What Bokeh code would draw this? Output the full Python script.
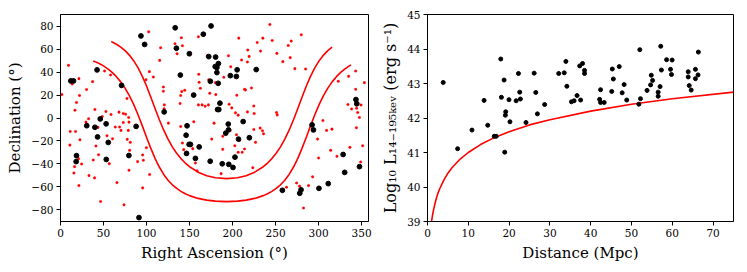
from bokeh.plotting import figure
from bokeh.layouts import row
from bokeh.models import Range1d, FixedTicker, CustomJSTickFormatter
from bokeh.embed import file_html
from bokeh.resources import INLINE

# ---------------- Left panel data ----------------
ra_black = [12.0, 15.1, 18.6, 18.2, 30.5, 40.0, 42.5, 43.1, 46.2, 53.0, 53.2, 55.5, 71.0, 79.5, 87.9,
            91.2, 93.5, 97.8, 120.5, 133.3, 134.7, 139.3, 146.0, 147.1, 146.5, 149.5, 151.0, 149.8,
            154.8, 156.8, 161.2, 172.3, 174.0, 174.2, 175.0, 166.0, 180.3, 179.8, 181.8, 181.8, 183.5,
            183.3, 182.6, 184.0, 185.3, 188.0, 192.1, 195.0, 195.3, 195.6, 197.4, 200.5, 202.8, 204.4,
            205.3, 206.9, 212.3, 219.5, 227.5, 257.9, 278.1, 279.6, 300.4, 311.2, 292.4, 294.0, 328.5,
            330.3, 347.5, 343.4, 344.4]
dec_black = [32.3, 32.3, -32.8, -38.0, -6.7, -8.1, 41.9, -16.5, -0.8, -5.1, -36.1, -21.3, 28.4, -32.7, -7.3,
             -86.8, 71.5, 64.1, 5.3, 78.6, 60.8, 37.4, -15.0, -6.8, -30.9, -23.0, -23.0, 56.0,
             20.0, -35.2, -25.2, 53.5, -37.7, 32.0, 80.2, 73.0, 53.1, 44.8, 44.0, 39.6, 47.4,
             30.2, 7.4, 7.4, 12.9, -39.9, -13.2, -5.3, -10.3, -40.4, 36.9, -43.1, -34.1, 36.2,
             42.0, -18.4, -3.1, -17.2, 42.2, -63.0, -65.6, -62.6, -61.3, -57.2, -6.0, -10.4, -31.8,
             -47.4, -42.4, 16.1, 12.4]

ra_red = [102.5, 116.4, 115.3, 133.1, 140.5, 141.7, 135.5, 160.3, 170.8, 160.7, 161.1, 172.3, 162.6, 173.5,
          9.3, 21.4, 13.6, 37.3, 30.3, 22.1, 18.6, 16.8, 1.6, 51.2, 58.2, 103.3, 107.9, 99.4, 119.6, 119.6,
          120.7, 120.4, 140.9, 144.4, 139.7, 139.0, 160.3, 164.6, 168.1, 171.9, 40.0, 48.5, 52.8, 58.7,
          68.0, 73.0, 75.7, 79.2, 77.3,
          243.3, 207.2, 228.6, 235.2, 246.1, 279.9, 268.2, 264.7, 217.7, 219.3, 217.3, 232.5, 251.5, 267.0,
          258.4, 272.4, 284.9, 195.2, 210.4, 197.9, 189.8, 180.1, 213.9, 215.0, 222.0, 180.5, 204.9, 181.6,
          196.0, 199.1, 203.4, 206.5, 217.3, 224.7, 225.1, 251.1, 251.9, 322.9, 334.9, 343.1, 353.2, 343.1,
          334.1, 338.4, 349.3, 344.2, 345.4, 347.4,
          29.6, 32.6, 11.3, 17.5, 10.9, 22.6, 21.0, 24.5, 16.3, 15.6, 21.4, 33.1, 39.6, 38.1, 44.2, 41.2,
          43.5, 54.0, 56.7, 60.5, 63.7, 68.7, 70.3, 73.0, 79.6, 78.8, 77.6, 81.1, 80.3, 79.6, 65.6, 46.6,
          73.8, 89.6, 95.5, 96.3, 95.5, 99.8, 103.6, 125.4, 139.7, 141.7, 143.2, 153.7, 154.9, 156.8, 158.8,
          175.8, 178.5,
          188.6, 204.5, 197.2, 208.0, 202.6, 188.6, 206.5, 211.2, 213.9, 226.7, 232.1, 236.0, 223.5, 186.7,
          305.0, 309.3, 315.5, 298.8, 300.0, 314.0, 321.3, 336.4, 343.9, 351.2, 348.9, 293.0, 288.3, 262.7,
          274.4, 277.9, 282.5, 224.7, 234.8]
dec_red = [75.1, 61.2, 50.2, 64.7, 69.9, 63.0, 56.0, 70.8, 54.3, 38.1, 31.1, 33.4, 25.9, 21.6,
           45.9, 34.3, 29.6, 31.7, 24.8, 19.6, 13.5, 6.8, 20.4, 40.9, 37.5, 40.4, 35.7, 33.4, 27.0, 23.3,
           11.4, 8.0, 23.0, 24.2, 19.6, 12.6, 11.4, 11.4, 10.3, 11.4, 7.4, 1.3, 5.7, 3.1,
           5.1, 3.9, 3.3, 0.5, 17.0,
           81.5, 69.6, 65.8, 69.6, 67.6, 72.5, 67.0, 63.2, 59.2, 53.7, 48.8, 58.3, 56.3, 52.6,
           49.1, 43.0, 42.7, 54.3, 50.5, 44.7, 35.5, 30.8, 25.0, 24.4, 26.2, 20.4, 19.8, 6.8,
           12.0, 8.8, 4.5, 2.5, 5.3, 10.5, 3.9, 4.8, 2.7, 32.0, 36.3, 40.9, 30.8, 25.0,
           11.8, 7.9, 11.4, 8.5, 4.8, 0.5,
           -3.6, -0.7, -11.7, -11.7, -23.6, -19.0, -35.5, -40.1, -42.4, -47.9, -58.9, -50.2, -52.2, -36.6, -32.0, -24.4,
           -8.2, -15.5, -39.8, -18.1, -7.9, -7.9, -10.8, -3.9, -3.6, -10.8, -18.6, -21.2, -28.2, -45.5, -56.3, -72.8,
           -75.7, -38.0, -32.2, -36.8, -60.9, -25.9, -49.3, -4.5, -7.4, -21.8, -27.6, -26.7, -3.3, -39.2, -46.1,
           -18.4, -4.5,
           -16.0, -14.6, -10.8, -19.5, -24.2, -27.3, -29.9, -29.9, -27.0, -21.2, -8.8, -13.8, -43.3, -48.5,
           -2.2, -10.8, -9.7, -18.4, -34.9, -28.2, -33.4, -25.6, -8.5, -24.2, -38.3, -51.3, -58.9, -60.3,
           -56.6, -59.4, -78.5, -10.0, -11.1]

# galactic latitude +10 / -10 boundary curves (RA, Dec)
ra_upper = [59, 60, 65, 70, 75, 80, 85, 90, 95, 100, 105, 110, 115, 120, 125, 130, 135, 140, 145, 150, 160,
            170, 180, 192.86, 205.72, 215.72, 225.72, 235.72, 240.72, 245.72, 250.72, 255.72, 260.72, 265.72,
            270.72, 275.72, 280.72, 285.72, 290.72, 295.72, 300.72, 305.72, 310.72, 315.72]
dec_upper = [66.6, 66.25, 64.27, 61.80, 58.71, 54.84, 49.98, 43.93, 36.54, 27.84, 18.15, 8.08, -1.69, -10.63,
             -18.46, -25.14, -30.76, -35.39, -39.26, -42.45, -47.18, -50.25, -52.08, -52.87, -52.08, -50.25,
             -47.18, -42.45, -39.26, -35.39, -30.76, -25.14, -18.46, -10.63, -1.69, 8.08, 18.15, 27.84, 36.54,
             43.93, 49.98, 54.84, 58.71, 61.80]
ra_lower = [38, 40, 45, 50, 55, 60, 65, 70, 75, 80, 85, 90, 95, 100, 105, 110, 115, 120, 125, 130, 135, 140,
            145, 150, 160, 170, 180, 192.86, 205.72, 215.72, 225.72, 235.72, 240.72, 245.72, 250.72, 255.72,
            260.72, 265.72, 270.72, 275.72, 280.72, 285.72, 290.72, 295.72, 300.72, 305.72, 310.72, 315.72,
            320.72, 325.72, 330.72, 335.72, 337.72]
dec_lower = [49.68, 49.12, 47.45, 45.39, 42.86, 39.75, 36.01, 31.48, 26.03, 19.52, 11.84, 3.03, -6.64, -16.72,
             -26.49, -35.36, -42.95, -49.19, -54.20, -58.20, -61.40, -63.93, -66.00, -67.65, -70.06, -71.59,
             -72.48, -72.87, -72.48, -71.59, -70.06, -67.65, -66.00, -63.93, -61.40, -58.20, -54.20, -49.19,
             -42.95, -35.36, -26.49, -16.72, -6.64, 3.03, 11.84, 19.52, 26.03, 31.48, 36.01, 39.75, 42.86,
             45.39, 46.26]

ra_ticks = [0, 50, 100, 150, 200, 250, 300, 350]
dec_ticks = [-80, -60, -40, -20, 0, 20, 40, 60, 80]

# ---------------- Right panel data ----------------
dist = [3.85, 7.38, 10.9, 13.87, 14.76, 16.36, 16.84, 17.96, 18.12, 18.77, 18.93, 19.17, 19.09, 19.97, 20.21,
        21.73, 22.29, 22.61, 22.77, 24.14, 26.14, 26.54, 26.94, 28.71, 32.16, 33.52, 33.92, 34.16, 35.28,
        35.93, 36.65, 37.3, 37.53, 38.0, 38.49, 38.49, 42.42, 42.18, 42.42, 43.30, 45.3, 45.55, 45.15,
        46.99, 48.19, 47.71, 48.83, 52.04, 52.2, 51.8, 53.81, 54.68, 54.85, 55.17, 56.53, 56.53, 57.0,
        57.17, 57.33, 58.6, 59.56, 59.8, 59.96, 63.9, 63.9, 64.15, 64.63, 65.67, 65.67, 66.31, 66.39]
logL = [43.03, 41.11, 41.65, 42.51, 41.79, 41.47, 41.47, 43.71, 42.60, 43.10, 41.01, 42.18, 42.08, 42.53, 41.89,
        42.50, 43.29, 42.75, 42.55, 41.87, 43.30, 42.74, 42.12, 42.39, 43.29, 43.31, 43.64, 42.92, 42.47,
        42.50, 42.65, 43.51, 42.52, 43.58, 43.38, 43.29, 42.82, 42.54, 42.45, 42.45, 43.42, 43.13, 42.77,
        43.49, 42.97, 42.73, 42.52, 43.98, 42.56, 42.40, 42.80, 42.96, 43.24, 43.09, 42.75, 42.63, 42.91,
        44.08, 43.39, 43.69, 43.41, 43.26, 43.68, 43.34, 43.19, 42.94, 42.81, 43.41, 43.14, 43.25, 43.91]

lim_dist = [1.0, 1.2, 1.5, 2, 2.5, 3, 4, 5, 6, 8, 10, 13, 16, 20, 25, 30, 40, 50, 60, 75]
lim_logL = [39.0, 39.16, 39.35, 39.60, 39.80, 39.95, 40.20, 40.40, 40.56, 40.81, 41.0, 41.23, 41.41, 41.60,
            41.80, 41.95, 42.20, 42.40, 42.56, 42.75]

dist_ticks = [0, 10, 20, 30, 40, 50, 60, 70]
logL_ticks = [39, 40, 41, 42, 43, 44, 45]

FONT = "DejaVu Serif"
minus_fmt = "return (tick < 0 ? '\u2212' : '') + Math.abs(tick).toString();"


def style(p):
    p.background_fill_color = "white"
    p.border_fill_color = "white"
    p.outline_line_color = "black"
    p.outline_line_width = 1
    p.grid.visible = False
    for ax in (p.xaxis[0], p.yaxis[0]):
        ax.axis_label_text_font = FONT
        ax.axis_label_text_font_style = "normal"
        ax.axis_label_text_font_size = "15px"
        ax.axis_label_text_color = "black"
        ax.major_label_text_font = FONT
        ax.major_label_text_font_size = "10.5px"
        ax.major_label_text_color = "black"
        ax.axis_line_color = "black"
        ax.major_tick_line_color = "black"
        ax.major_tick_in = 0
        ax.major_tick_out = 4
        ax.minor_tick_line_color = None
        ax.major_label_standoff = 3
        ax.axis_label_standoff = 4
        ax.formatter = CustomJSTickFormatter(code=minus_fmt)


p1 = figure(width=378, height=264, output_backend="svg", toolbar_location=None,
            x_range=Range1d(0, 358), y_range=Range1d(-90.2, 90.2),
            min_border_left=60, min_border_right=10, min_border_top=14, min_border_bottom=42)
style(p1)
p1.xaxis.ticker = FixedTicker(ticks=ra_ticks)
p1.yaxis.ticker = FixedTicker(ticks=dec_ticks)
p1.xaxis.axis_label = "Right Ascension (°)"
p1.yaxis.axis_label = "Declination (°)"
p1.line(ra_upper, dec_upper, line_color="#ff0000", line_width=1.6)
p1.line(ra_lower, dec_lower, line_color="#ff0000", line_width=1.6)
p1.scatter(ra_red, dec_red, size=2.6, fill_color="#ff0000", line_color="#ff0000", line_width=0.3)
p1.scatter(ra_black, dec_black, size=4.8, fill_color="black", line_color="black")

p2 = figure(width=361, height=264, output_backend="svg", toolbar_location=None,
            x_range=Range1d(0, 75), y_range=Range1d(39, 45),
            min_border_left=48, min_border_right=6, min_border_top=14, min_border_bottom=42)
style(p2)
p2.xaxis.ticker = FixedTicker(ticks=dist_ticks)
p2.yaxis.ticker = FixedTicker(ticks=logL_ticks)
p2.xaxis.axis_label = "Distance (Mpc)"
p2.yaxis.axis_label = "Log\u2081\u2080 L\u2081\u2084\u208b\u2081\u2089\u2085\u2096\u2091\u1d65 (erg s\u207b\u00b9)"
p2.yaxis.axis_label_text_font_size = "16px"
p2.line(lim_dist, lim_logL, line_color="#ff0000", line_width=1.6)
p2.scatter(dist, logL, size=4, fill_color="black", line_color="black")

layout = row(p1, p2)
open("out.html", "w").write(file_html(layout, INLINE))
